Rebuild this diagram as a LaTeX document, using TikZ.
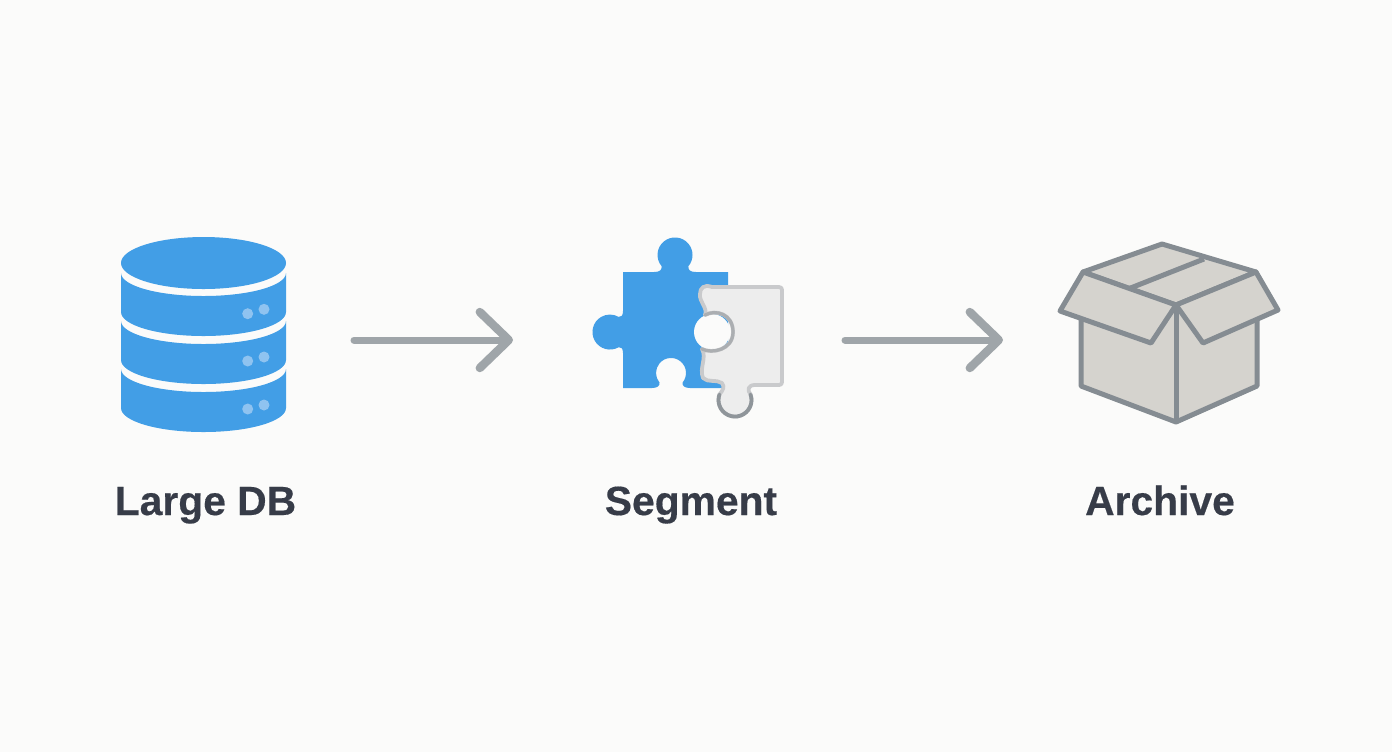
\documentclass[tikz,border=0pt]{standalone}
\usepackage{fontspec}
\setmainfont{Liberation Sans}[BoldFeatures={FakeBold=0.4}]
\usetikzlibrary{arrows.meta}
\definecolor{pagebg}{HTML}{FBFBFA}
\definecolor{dbblue}{HTML}{429EE6}
\definecolor{dbdot}{HTML}{8FC3F0}
\definecolor{piecegray}{HTML}{EDEDED}
\definecolor{pieceedge}{HTML}{C9CACC}
\definecolor{piecemid}{HTML}{ABAEB1}
\definecolor{piecedark}{HTML}{8F959A}
\definecolor{boxfill}{HTML}{D5D3CE}
\definecolor{boxedge}{HTML}{858C92}
\definecolor{arrowgray}{HTML}{9FA5A9}
\definecolor{labelink}{HTML}{373C48}
\tikzset{
  dblayer/.style={fill=dbblue},
  dbled/.style={fill=dbdot},
  boxface/.style={fill=boxfill, draw=boxedge, line width=2.5pt, line join=round},
  steparrow/.style={draw=arrowgray, line width=3.5pt, line cap=round, -{Straight Barb[length=14.5pt, width=28pt, line width=4.2pt, round]}},
  steplabel/.style={text=labelink, anchor=base, font=\bfseries\fontsize{20.4}{24}\selectfont}
}
\begin{document}
\begin{tikzpicture}[x=0.5pt, y=-0.5pt]
  \fill[pagebg] (0,0) rectangle (1392,752);
  \useasboundingbox (0,0) rectangle (1392,752);
  % database
  \fill[dblayer] (203.5,263) ellipse [x radius=82.5, y radius=26];
  \fill[dblayer] (121,273) arc [start angle=180, end angle=0, x radius=82.5, y radius=23]
    -- (286,312) arc [start angle=0, end angle=180, x radius=82.5, y radius=24] -- cycle;
  \fill[dblayer] (121,321) arc [start angle=180, end angle=0, x radius=82.5, y radius=23]
    -- (286,360) arc [start angle=0, end angle=180, x radius=82.5, y radius=24] -- cycle;
  \fill[dblayer] (121,369) arc [start angle=180, end angle=0, x radius=82.5, y radius=23]
    -- (286,408) arc [start angle=0, end angle=180, x radius=82.5, y radius=24] -- cycle;
  \fill[dbled] (247.7,313.7) circle [radius=5.5];
  \fill[dbled] (264,309.3) circle [radius=5.5];
  \fill[dbled] (247.7,361) circle [radius=5.5];
  \fill[dbled] (264,357) circle [radius=5.5];
  \fill[dbled] (247.7,409) circle [radius=5.5];
  \fill[dbled] (264,405) circle [radius=5.5];
  % puzzle pieces
  \fill[dbblue] (623,272) -- (654,272) .. controls (660,272) and (662,270) .. (661.6,266.2)
    arc [start angle=140, end angle=400, radius=17.5]
    .. controls (688,270) and (690,272) .. (696,272) -- (728,272) -- (728,388) -- (690,388)
    .. controls (685,388) and (682,386) .. (682.5,382.6)
    arc [start angle=40, end angle=-220, radius=15]
    .. controls (660,386) and (657,388) .. (652,388) -- (623,388) -- (623,353)
    .. controls (623,348) and (621,347) .. (618.7,347.2)
    arc [start angle=60, end angle=300, radius=17.5]
    .. controls (621,317) and (623,316) .. (623,311) -- cycle;
  \fill[pagebg] (712,332) circle [radius=18];
  \draw[fill=piecegray, draw=pieceedge, line width=1.9pt, line join=round]
    (700,294) .. controls (700,288) and (704,284) .. (712,287)
    -- (779,287) .. controls (781,287) and (782,288) .. (782,290)
    -- (782,382) .. controls (782,384) and (781,385) .. (779,385)
    -- (755,385) .. controls (748,385) and (747,390) .. (750.5,394.4)
    arc [start angle=-20, end angle=200, radius=16.5]
    .. controls (723,390) and (725,387) .. (722,383)
    .. controls (716,379) and (708,383) .. (703,378)
    .. controls (699,368) and (707,358) .. (702,349)
    .. controls (712,354) and (733,350) .. (733,332)
    .. controls (733,314) and (716,309) .. (705,315)
    .. controls (708,308) and (699,302) .. (700,294) -- cycle;
  \draw[piecemid, line width=1.6pt, line cap=round]
    (702,349) .. controls (712,354) and (733,350) .. (733,332)
    .. controls (733,314) and (716,309) .. (705,315);
  \draw[piecedark, line width=1.9pt, line cap=round]
    (750.5,394.4) arc [start angle=-20, end angle=200, radius=16.5];
  % box
  \draw[boxface] (1081,318) -- (1081,386) -- (1176,422) -- (1257,386) -- (1257,318) -- (1176,305) -- cycle;
  \draw[boxface] (1176,305) -- (1176,422);
  \draw[boxface] (1083,272) -- (1162,244) -- (1256,272) -- (1176,305) -- cycle;
  \draw[boxface] (1204,259) -- (1128,289);
  \draw[boxface] (1083,272) -- (1060,311) -- (1151,343) -- (1176,305) -- cycle;
  \draw[boxface] (1256,272) -- (1278,310) -- (1203,343) -- (1176,305) -- cycle;
  % arrows
  \coordinate (dbout) at (354,340);
  \coordinate (segin) at (513,340);
  \coordinate (segout) at (845,340);
  \coordinate (arcin) at (1003,340);
  \draw[steparrow] (dbout) -- (segin);
  \draw[steparrow] (segout) -- (arcin);
  % labels
  \node[steplabel] (lbldb) at (205.5,515) {Large DB};
  \node[steplabel] (lblseg) at (691,515) {Segment};
  \node[steplabel] (lblarc) at (1160,515) {Archive};
\end{tikzpicture}
\end{document}
